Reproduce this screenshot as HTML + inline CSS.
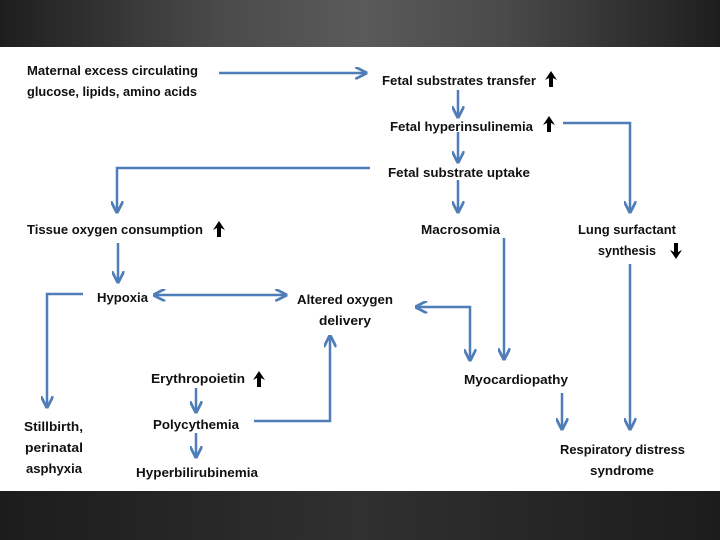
<!DOCTYPE html>
<html><head><meta charset="utf-8"><style>
html,body{margin:0;padding:0;width:720px;height:540px;overflow:hidden;background:#fff}
.top{position:absolute;left:0;top:0;width:720px;height:47px;background:linear-gradient(90deg,#1e1e1e,#4a4a4a 30%,#5a5a5a 50%,#4a4a4a 70%,#1e1e1e)}
.bot{position:absolute;left:0;top:491px;width:720px;height:49px;background:linear-gradient(90deg,#1c1c1c,#303030 50%,#1c1c1c)}
svg{position:absolute;left:0;top:0}
text{font-family:"Liberation Sans",sans-serif;font-weight:bold;font-size:13px;fill:#111}
</style></head><body>
<div class="top"></div><div class="bot"></div>
<svg width="720" height="540" viewBox="0 0 720 540">
<defs>
<marker id="a" viewBox="0 0 10 10" refX="9" refY="5" markerWidth="5" markerHeight="5" orient="auto-start-reverse"><path d="M0,0 L10,5 L0,10" fill="none" stroke="#4f7db8" stroke-width="2.2"/></marker>
<g id="up"><path d="M0,-8 L-6,1 L-2,-1 L-2,8 L2,8 L2,-1 L6,1 Z" fill="#000"/></g>
</defs>
<g stroke="#4f7db8" stroke-width="2.5" fill="none">
<path d="M219,73 H366" marker-end="url(#a)"/>
<path d="M458,90 V117" marker-end="url(#a)"/>
<path d="M563,123 H630 V212" marker-end="url(#a)"/>
<path d="M458,132 V162" marker-end="url(#a)"/>
<path d="M370,168 H117 V212" marker-end="url(#a)"/>
<path d="M458,180 V212" marker-end="url(#a)"/>
<path d="M504,238 V359" marker-end="url(#a)"/>
<path d="M630,264 V429" marker-end="url(#a)"/>
<path d="M118,243 V282" marker-end="url(#a)"/>
<path d="M83,294 H47 V407" marker-end="url(#a)"/>
<path d="M154,295 H286" marker-start="url(#a)" marker-end="url(#a)"/>
<path d="M470,360 V307 H416" marker-start="url(#a)" marker-end="url(#a)"/>
<path d="M562,393 V429" marker-end="url(#a)"/>
<path d="M196,388 V412" marker-end="url(#a)"/>
<path d="M254,421 H330 V336" marker-end="url(#a)"/>
<path d="M196,433 V457" marker-end="url(#a)"/>
</g>
<text x="27" y="75" textLength="171" lengthAdjust="spacingAndGlyphs">Maternal excess circulating</text>
<text x="27" y="96" textLength="170" lengthAdjust="spacingAndGlyphs">glucose, lipids, amino acids</text>
<text x="382" y="85" textLength="154" lengthAdjust="spacingAndGlyphs">Fetal substrates transfer</text>
<text x="390" y="131" textLength="143" lengthAdjust="spacingAndGlyphs">Fetal hyperinsulinemia</text>
<text x="388" y="177" textLength="142" lengthAdjust="spacingAndGlyphs">Fetal substrate uptake</text>
<text x="27" y="234" textLength="176" lengthAdjust="spacingAndGlyphs">Tissue oxygen consumption</text>
<text x="421" y="234" textLength="79" lengthAdjust="spacingAndGlyphs">Macrosomia</text>
<text x="578" y="234" textLength="98" lengthAdjust="spacingAndGlyphs">Lung surfactant</text>
<text x="598" y="255" textLength="58" lengthAdjust="spacingAndGlyphs">synthesis</text>
<text x="97" y="302" textLength="51" lengthAdjust="spacingAndGlyphs">Hypoxia</text>
<text x="297" y="304" textLength="96" lengthAdjust="spacingAndGlyphs">Altered oxygen</text>
<text x="319" y="325" textLength="52" lengthAdjust="spacingAndGlyphs">delivery</text>
<text x="464" y="384" textLength="104" lengthAdjust="spacingAndGlyphs">Myocardiopathy</text>
<text x="151" y="383" textLength="94" lengthAdjust="spacingAndGlyphs">Erythropoietin</text>
<text x="153" y="429" textLength="86" lengthAdjust="spacingAndGlyphs">Polycythemia</text>
<text x="136" y="477" textLength="122" lengthAdjust="spacingAndGlyphs">Hyperbilirubinemia</text>
<text x="24" y="431" textLength="59" lengthAdjust="spacingAndGlyphs">Stillbirth,</text>
<text x="25" y="452" textLength="58" lengthAdjust="spacingAndGlyphs">perinatal</text>
<text x="26" y="473" textLength="56" lengthAdjust="spacingAndGlyphs">asphyxia</text>
<text x="560" y="454" textLength="125" lengthAdjust="spacingAndGlyphs">Respiratory distress</text>
<text x="590" y="475" textLength="64" lengthAdjust="spacingAndGlyphs">syndrome</text>
<use href="#up" x="551" y="79"/>
<use href="#up" x="549" y="124"/>
<use href="#up" x="219" y="229"/>
<use href="#up" x="259" y="379"/>
<use href="#up" transform="translate(676,251) rotate(180)"/>
</svg>
</body></html>
